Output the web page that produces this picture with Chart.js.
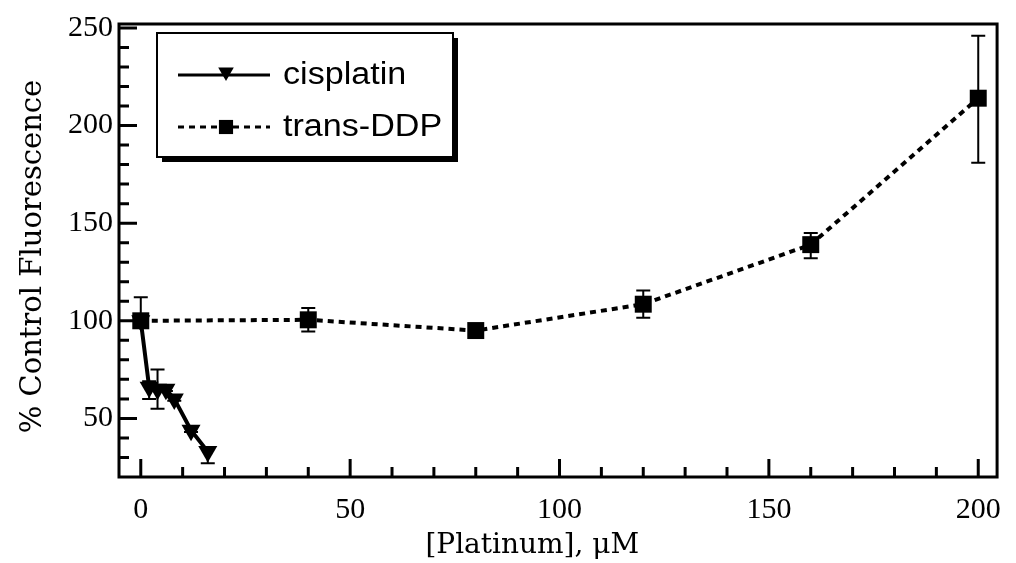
<!DOCTYPE html>
<html>
<head>
<meta charset="utf-8">
<script src="https://cdn.jsdelivr.net/npm/chart.js@4.4.0/dist/chart.umd.min.js"></script>
<style>
html, body { margin: 0; padding: 0; background: #fff; }
#wrap { width: 1016px; height: 563px; }
</style>
</head>
<body>
<div id="wrap"><canvas id="myChart"></canvas></div>
<script>
// cisplatin series
var cisDose = [0, 2, 4, 6, 8, 12, 16];
var cisValues = [100, 66, 65, 65, 60, 44, 33];
var cisErrUp = [0, 3, 10, 1, 1, 1, 0];
var cisErrDown = [0, 6, 10, 1, 1, 1, 6];

// trans-DDP series
var transDose = [0, 40, 80, 120, 160, 200];
var transValues = [100, 100.5, 95, 108.5, 139, 214];
var transErrUp = [12, 6, 0, 7, 6, 32];
var transErrDown = [0, 6, 0, 7, 7, 33];

var xTicks = [0, 50, 100, 150, 200];
var yTicks = [50, 100, 150, 200, 250];
var xTitle = '[Platinum], μM';
var yTitle = '% Control Fluorescence';

function toPoints(xs, ys) {
     return xs.map(function (x, i) { return { x: x, y: ys[i] }; });
}

function drawErrors(chart, xs, ys, up, down) {
     var ctx = chart.ctx, sx = chart.scales.x, sy = chart.scales.y;
     ctx.save();
     ctx.strokeStyle = '#000';
     ctx.lineWidth = 2;
     for (var i = 0; i < xs.length; i++) {
          if (!up[i] && !down[i]) continue;
          var px = sx.getPixelForValue(xs[i]);
          var top = sy.getPixelForValue(ys[i] + up[i]);
          var bot = sy.getPixelForValue(ys[i] - down[i]);
          ctx.beginPath();
          ctx.moveTo(px, top); ctx.lineTo(px, bot);
          if (up[i]) { ctx.moveTo(px - 7, top); ctx.lineTo(px + 7, top); }
          if (down[i]) { ctx.moveTo(px - 7, bot); ctx.lineTo(px + 7, bot); }
          ctx.stroke();
     }
     ctx.restore();
}

var errorBars = {
     id: 'errorBars',
     beforeDatasetsDraw: function (chart) {
          drawErrors(chart, cisDose, cisValues, cisErrUp, cisErrDown);
          drawErrors(chart, transDose, transValues, transErrUp, transErrDown);
     }
};

var frame = {
     id: 'frame',
     afterDraw: function (chart) {
          var ctx = chart.ctx, a = chart.chartArea, sx = chart.scales.x, sy = chart.scales.y;
          ctx.save();
          ctx.strokeStyle = '#000';
          ctx.lineWidth = 3;
          ctx.strokeRect(a.left, a.top, a.right - a.left, a.bottom - a.top);
          ctx.beginPath();
          // inward ticks, long at labelled values
          for (var v = 0; v <= 200; v += 10) {
               var px = sx.getPixelForValue(v);
               var len = v % 50 === 0 ? 18 : 10;
               ctx.moveTo(px, a.bottom); ctx.lineTo(px, a.bottom - len);
          }
          for (var w = 30; w <= 250; w += 10) {
               var py = sy.getPixelForValue(w);
               var l2 = w % 50 === 0 ? 18 : 10;
               ctx.moveTo(a.left, py); ctx.lineTo(a.left + l2, py);
          }
          ctx.stroke();

          // axis titles
          ctx.fillStyle = '#000';
          ctx.font = '28px "DejaVu Serif", serif';
          ctx.textAlign = 'center';
          ctx.textBaseline = 'middle';
          ctx.fillText(xTitle, sx.getPixelForValue(93.5), 546);
          ctx.save();
          ctx.translate(33, (a.top + a.bottom) / 2 + 6);
          ctx.rotate(-Math.PI / 2);
          ctx.font = '29px "DejaVu Serif", serif';
          ctx.fillText(yTitle, 0, 0);
          ctx.restore();

          // legend box with drop shadow
          var bx = 157, by = 33, bw = 296, bh = 124;
          ctx.fillStyle = '#000';
          ctx.fillRect(bx + 5, by + 5, bw, bh);
          ctx.fillStyle = '#fff';
          ctx.fillRect(bx, by, bw, bh);
          ctx.lineWidth = 2;
          ctx.strokeRect(bx, by, bw, bh);

          var rows = [
               { ds: chart.data.datasets[0], y: 75 },
               { ds: chart.data.datasets[1], y: 127 }
          ];
          ctx.textAlign = 'left';
          rows.forEach(function (r) {
               ctx.save();
               ctx.strokeStyle = '#000';
               ctx.lineWidth = r.ds.borderWidth - 1;
               ctx.setLineDash(r.ds.borderDash || []);
               ctx.beginPath();
               ctx.moveTo(178, r.y); ctx.lineTo(270, r.y);
               ctx.stroke();
               ctx.restore();
               ctx.fillStyle = '#000';
               Chart.helpers.drawPoint(ctx, {
                    pointStyle: r.ds.pointStyle,
                    rotation: r.ds.pointRotation || 0,
                    radius: r.ds.pointStyle === 'triangle' ? 9 : 10,
                    borderWidth: 0
               }, 226, r.ds.pointStyle === 'triangle' ? r.y - 3 : r.y);
               ctx.save();
               ctx.translate(283, r.y);
               ctx.scale(1.1, 1);
               ctx.font = '31px "Liberation Sans", Arial, sans-serif';
               ctx.fillText(r.ds.label, 0, 0);
               ctx.restore();
          });
          ctx.restore();
     }
};

var ctx = document.getElementById('myChart').getContext('2d');
var chart = new Chart(ctx, {
    type: 'scatter',
    data: {
        datasets: [{
            label: 'cisplatin',
            data: toPoints(cisDose, cisValues),
            showLine: true,
            borderColor: '#000',
            backgroundColor: '#000',
            borderWidth: 4,
            pointStyle: 'triangle',
            pointRotation: 180,
            pointRadius: 11,
            pointBorderWidth: 0,
            order: 1
        }, {
            label: 'trans-DDP',
            data: toPoints(transDose, transValues),
            showLine: true,
            borderColor: '#000',
            backgroundColor: '#000',
            borderWidth: 4,
            borderDash: [6, 5],
            pointStyle: 'rect',
            pointRadius: 12,
            pointBorderWidth: 0,
            order: 0
        }]
    },
    options: {
        responsive: true,
        maintainAspectRatio: false,
        animation: false,
        layout: { padding: { top: 18, right: 5, left: 0, bottom: 0 } },
        plugins: {
            legend: { display: false },
            tooltip: { enabled: false }
        },
        scales: {
            x: {
                type: 'linear',
                min: -5.2,
                max: 204.5,
                afterBuildTicks: function (s) { s.ticks = xTicks.map(function (v) { return { value: v }; }); },
                afterFit: function (s) { s.height = 86; },
                grid: { display: false, drawTicks: false },
                border: { display: false },
                ticks: {
                    color: '#000',
                    padding: 15,
                    maxRotation: 0,
                    font: { family: '"Liberation Serif", serif', size: 30 }
                }
            },
            y: {
                type: 'linear',
                min: 20,
                max: 252,
                afterBuildTicks: function (s) { s.ticks = yTicks.map(function (v) { return { value: v }; }); },
                afterFit: function (s) { s.width = 119; },
                grid: { display: false, drawTicks: false },
                border: { display: false },
                ticks: {
                    color: '#000',
                    padding: 6,
                    font: { family: '"Liberation Serif", serif', size: 30 }
                }
            }
        }
    },
    plugins: [errorBars, frame]
});
</script>
</body>
</html>
